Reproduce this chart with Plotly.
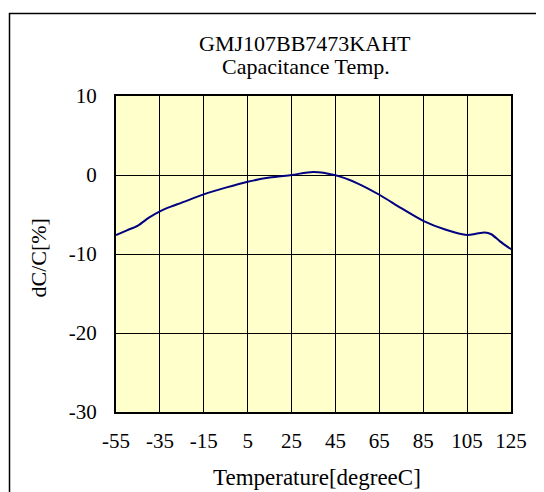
import plotly.graph_objects as go

temperature = [-55, -50, -45, -40, -35, -30, -25, -15, -5, 5, 15, 25, 35, 45, 55, 65, 75, 85, 95, 105, 109, 113, 116, 120, 125]
dc_over_c = [-7.6, -7.0, -6.4, -5.4, -4.6, -4.0, -3.5, -2.45, -1.6, -0.85, -0.33, 0.0, 0.38, -0.04, -1.05, -2.5, -4.2, -5.8, -6.9, -7.6, -7.45, -7.28, -7.5, -8.4, -9.4]

x_ticks = [-55, -35, -15, 5, 25, 45, 65, 85, 105, 125]
x_tick_labels = ["-55", "-35", "-15", "5", "25", "45", "65", "85", "105", "125"]
y_ticks = [-30, -20, -10, 0, 10]
y_tick_labels = ["-30", "-20", "-10", "0", "10"]

title_lines = ["GMJ107BB7473KAHT", "Capacitance Temp."]
x_title = "Temperature[degreeC]"
y_title = "dC/C[%]"

OFF = 8  # default page body margin
W, H = 544 - OFF, 492 - OFF
L, T = 116 - OFF, 96 - OFF
pw, ph = 395, 316
R, B = W - L - pw, H - T - ph

font = "Liberation Serif, Times New Roman, serif"


def px_x(px):  # screenshot pixel -> paper
    return (px - OFF - L) / pw


def px_y(py):
    return (T + ph - (py - OFF)) / ph


fig = go.Figure()
fig.add_trace(go.Scatter(
    x=temperature, y=dc_over_c, mode="lines",
    line=dict(color="#000080", width=2, shape="spline", smoothing=0.8),
    hoverinfo="skip", showlegend=False,
))

axis_common = dict(
    showgrid=True, gridcolor="black", gridwidth=1,
    showline=True, linecolor="black", linewidth=2, mirror=True,
    zeroline=False, ticks="", automargin=False,
    tickfont=dict(family=font, size=21, color="black"),
)

fig.update_xaxes(range=[-55, 125], tickvals=x_ticks, ticktext=x_tick_labels,
                 ticklabelstandoff=9, **axis_common)
fig.update_yaxes(range=[-30, 10], tickvals=y_ticks, ticktext=y_tick_labels,
                 ticklabelstandoff=13, **axis_common)

fig.add_annotation(text=title_lines[0], xref="paper", yref="paper",
                   x=px_x(305), y=px_y(43), xanchor="center", yanchor="middle",
                   showarrow=False, font=dict(family=font, size=22, color="black"))
fig.add_annotation(text=title_lines[1], xref="paper", yref="paper",
                   x=px_x(306), y=px_y(67), xanchor="center", yanchor="middle",
                   showarrow=False, font=dict(family=font, size=22, color="black"))
fig.add_annotation(text=x_title, xref="paper", yref="paper",
                   x=px_x(316.5), y=px_y(477), xanchor="center", yanchor="middle",
                   showarrow=False, font=dict(family=font, size=23, color="black"))
fig.add_annotation(text=y_title, xref="paper", yref="paper", textangle=-90,
                   x=px_x(38), y=px_y(258.5), xanchor="center", yanchor="middle",
                   showarrow=False, font=dict(family=font, size=22, color="black"))

fig.add_shape(type="rect", xref="paper", yref="paper", layer="below",
              x0=px_x(9.5), x1=px_x(560),
              y0=px_y(510), y1=px_y(13.5),
              line=dict(color="black", width=1.5), fillcolor="rgba(0,0,0,0)")

fig.update_layout(
    width=W, height=H, margin=dict(l=L, r=R, t=T, b=B, autoexpand=False),
    paper_bgcolor="white", plot_bgcolor="#FFFFCC",
    font=dict(family=font, color="black"),
)

fig.write_html("out.html")
